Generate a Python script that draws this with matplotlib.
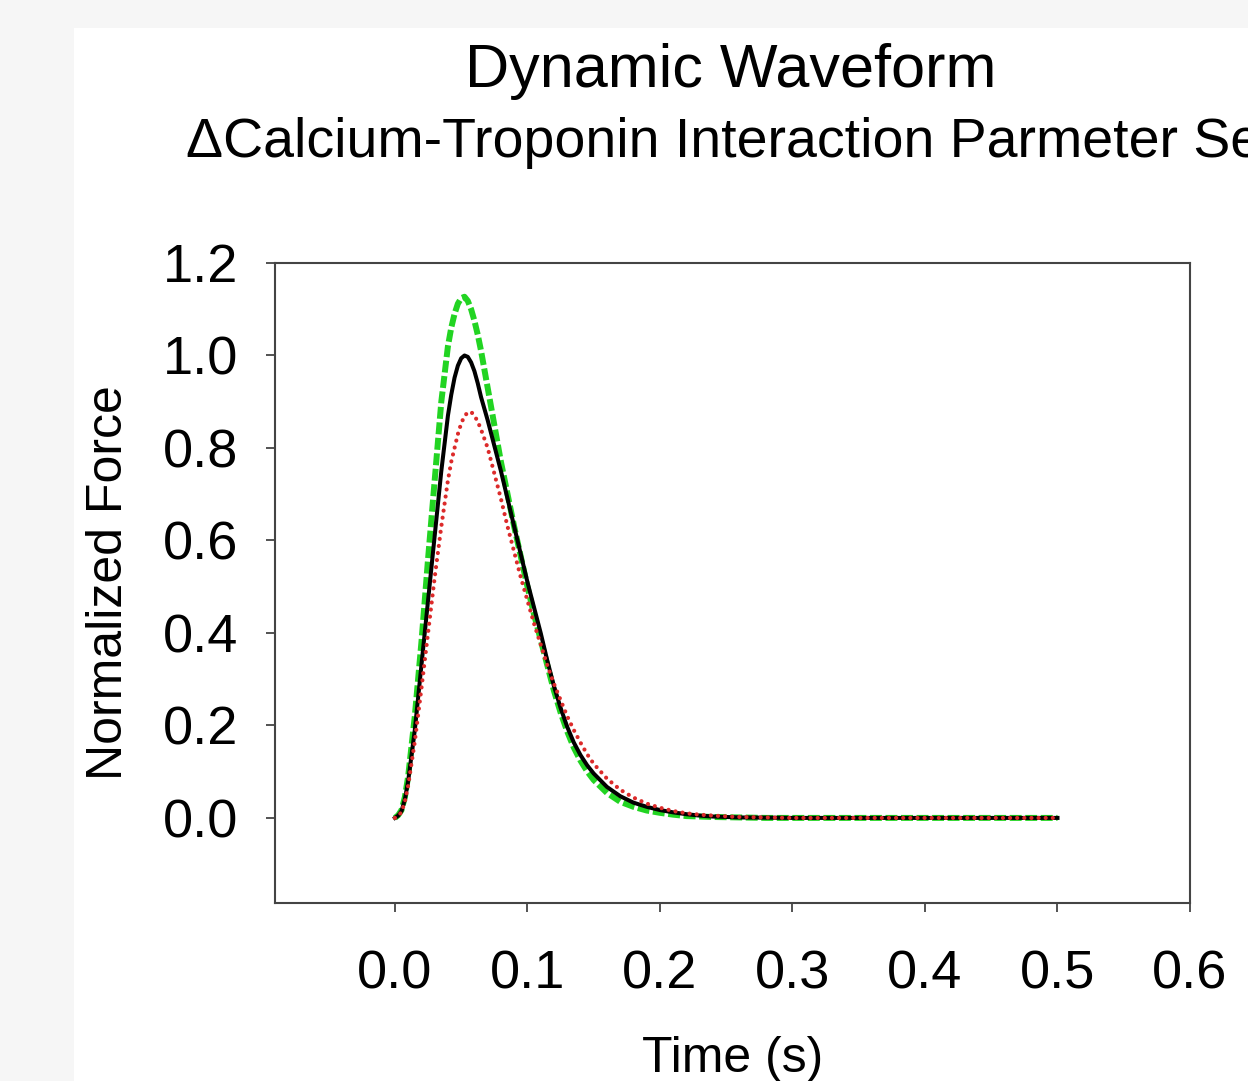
import matplotlib
matplotlib.use("Agg")
import matplotlib.pyplot as plt
from matplotlib.patches import Rectangle

plt.rcParams['font.family'] = ['Liberation Sans', 'DejaVu Sans']

# ---- data ----
time_s = [0.0, 0.0025, 0.005, 0.0075, 0.01, 0.015, 0.02, 0.025, 0.03, 0.035,
          0.04, 0.0425, 0.045, 0.0475, 0.05, 0.0525, 0.055, 0.0575, 0.06, 0.0625,
          0.065, 0.07, 0.075, 0.08, 0.085, 0.09, 0.095, 0.10, 0.105, 0.11,
          0.115, 0.12, 0.125, 0.13, 0.135, 0.14, 0.145, 0.15, 0.16, 0.17,
          0.18, 0.19, 0.20, 0.21, 0.22, 0.23, 0.24, 0.26, 0.28, 0.30,
          0.35, 0.40, 0.45, 0.50]

force_baseline = [0.0, 0.005, 0.015, 0.04, 0.08, 0.19, 0.33, 0.47, 0.61, 0.75,
                  0.87, 0.915, 0.952, 0.978, 0.994, 1.0, 0.997, 0.985, 0.966, 0.94,
                  0.91, 0.86, 0.805, 0.75, 0.69, 0.63, 0.57, 0.51, 0.455, 0.40,
                  0.34, 0.285, 0.238, 0.197, 0.163, 0.136, 0.114, 0.096, 0.067, 0.047,
                  0.033, 0.024, 0.017, 0.012, 0.008, 0.005, 0.003, 0.001, 0.0005, 0.0,
                  0.0, 0.0, 0.0, 0.0]

force_increased = [0.0, 0.006, 0.017, 0.045, 0.09, 0.22, 0.38, 0.56, 0.73, 0.90,
                   1.02, 1.06, 1.09, 1.112, 1.124, 1.127, 1.118, 1.10, 1.075, 1.045,
                   1.01, 0.93, 0.85, 0.77, 0.70, 0.63, 0.565, 0.50, 0.44, 0.385,
                   0.33, 0.275, 0.228, 0.187, 0.152, 0.124, 0.101, 0.082, 0.054, 0.035,
                   0.024, 0.016, 0.011, 0.007, 0.004, 0.003, 0.002, 0.001, 0.0, 0.0,
                   0.0, 0.0, 0.0, 0.0]

force_decreased = [0.0, 0.004, 0.013, 0.035, 0.07, 0.165, 0.28, 0.40, 0.52, 0.63,
                   0.73, 0.77, 0.80, 0.83, 0.853, 0.869, 0.877, 0.878, 0.870, 0.857,
                   0.84, 0.80, 0.745, 0.69, 0.63, 0.575, 0.52, 0.47, 0.42, 0.375,
                   0.33, 0.29, 0.255, 0.22, 0.19, 0.163, 0.138, 0.117, 0.085, 0.061,
                   0.044, 0.031, 0.022, 0.015, 0.010, 0.007, 0.005, 0.002, 0.001, 0.0,
                   0.0, 0.0, 0.0, 0.0]

x_ticks = [0.0, 0.1, 0.2, 0.3, 0.4, 0.5, 0.6]
y_ticks = [0.0, 0.2, 0.4, 0.6, 0.8, 1.0, 1.2]

title = "Dynamic Waveform"
subtitle = "\u0394Calcium-Troponin Interaction Parmeter Set"

# ---- figure ----
W, H = 1248, 1081
fig = plt.figure(figsize=(W / 100, H / 100), dpi=100)
fig.patch.set_facecolor('#f6f6f6')
fig.patches.append(Rectangle((74 / W, 0), 1 - 74 / W, 1 - 28 / H,
                             transform=fig.transFigure, facecolor='white',
                             edgecolor='none', zorder=-10))

ax = fig.add_axes([275 / W, 178 / H, (1190 - 275) / W, (903 - 263) / H])
ax.set_zorder(1)
ax.set_facecolor('white')

ax.plot(time_s, force_increased, color='#22d422', lw=4.3,
        linestyle=(0, (2.0, 0.6)), dash_capstyle='butt', zorder=2)
ax.plot(time_s, force_baseline, color='black', lw=2.9,
        solid_joinstyle='round', zorder=3)
ax.plot(time_s, force_decreased, color='#dc2a2a', lw=3.0,
        linestyle=(0, (0.01, 1.7)), dash_capstyle='round', zorder=4)

ax.set_xlim(-0.0905, 0.6)
ax.set_ylim(-0.184, 1.2)
ax.set_xticks(x_ticks)
ax.set_xticklabels([f"{v:.1f}" for v in x_ticks])
ax.set_yticks(y_ticks)
ax.set_yticklabels([f"{v:.1f}" for v in y_ticks])

for s in ax.spines.values():
    s.set_color('#444444')
    s.set_linewidth(1.5)

ax.tick_params(axis='both', direction='out', length=6.5, width=1.3,
               color='#444444', labelsize=39, labelcolor='black')
ax.tick_params(axis='x', pad=27)
ax.tick_params(axis='y', pad=20)

ax.set_xlabel("Time (s)", fontsize=36, labelpad=26)
ax.set_ylabel("Normalized Force", fontsize=36, labelpad=22)

fig.text(731 / W, 1 - 72 / H, title, ha='center', va='center', fontsize=44)
fig.text(731 / W, 1 - 143 / H, subtitle, ha='center', va='center', fontsize=40)

fig.savefig("out.png", dpi=100, facecolor=fig.get_facecolor())
